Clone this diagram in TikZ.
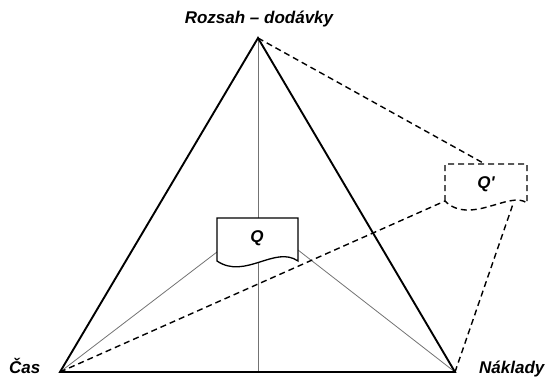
\documentclass[tikz,border=0pt]{standalone}
\usepackage{fontspec}
\setmainfont{Liberation Sans}
\begin{document}
\begin{tikzpicture}[x=1pt,y=-1pt,
  lbl/.style={font=\fontsize{17}{20}\selectfont\bfseries\itshape, inner sep=0pt},
  frame/.style={line width=1.9pt, line join=miter},
  thin/.style={line width=0.8pt, draw=black!55},
  dsh/.style={line width=1.4pt, dash pattern=on 6pt off 4pt},
  doc/.style={line width=1.3pt, fill=white}]
\useasboundingbox (0,0) rectangle (547,376);
\coordinate (A) at (258,38);
\coordinate (C) at (60,372);
\coordinate (N) at (455,372);
\coordinate (B) at (258,372);
\coordinate (QL) at (217,252);
\coordinate (QR) at (298,250);
\coordinate (PT) at (485,164);
\coordinate (PL) at (445,201);
\coordinate (PB) at (513,204);
% thin lines
\draw[thin] (A) -- (B);
\draw[thin] (C) -- (QL);
\draw[thin] (N) -- (QR);
% dashed lines
\draw[dsh] (A) -- (PT);
\draw[dsh] (C) -- (PL);
\draw[dsh] (N) -- (PB);
% triangle
\draw[frame] (A) -- (C) -- (N) -- cycle;
% Q document
\draw[doc] (217,261) -- (217,218) -- (298,218) -- (298,261)
  .. controls (275,245) and (245,280) .. (217,261) -- cycle;
\node[lbl] (Q) at (257,238) {Q};
% Q' document
\draw[doc, dsh, fill=white] (445,201) -- (445,164) -- (527,164) -- (527,203)
  .. controls (510,190) and (470,226) .. (445,201) -- cycle;
\node[lbl] (Qp) at (486,184) {Q\textquotesingle};
% labels
\node[lbl, anchor=base] (top) at (259,23.5) {Rozsah – dodávky};
\node[lbl, anchor=base west] (cas) at (9,373.5) {Čas};
\node[lbl, anchor=base west] (nak) at (479,373.5) {Náklady};
\end{tikzpicture}
\end{document}
